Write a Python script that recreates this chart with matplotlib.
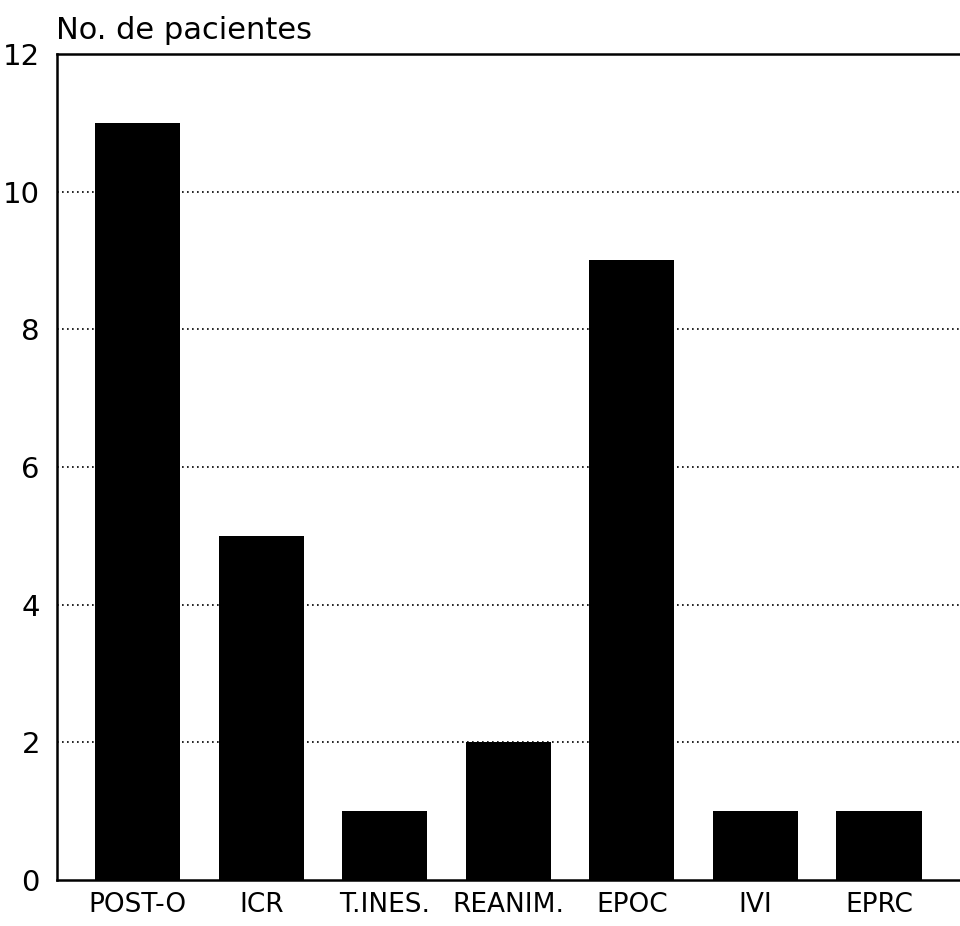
import matplotlib
matplotlib.use("Agg")
import matplotlib.pyplot as plt

categorias = ["POST-O", "ICR", "T.INES.", "REANIM.", "EPOC", "IVI", "EPRC"]
pacientes = [11, 5, 1, 2, 9, 1, 1]
yticks = [0, 2, 4, 6, 8, 10, 12]

plt.rcParams['font.family'] = ['DejaVu Sans']

fig = plt.figure(figsize=(9.6, 9.26), dpi=100)
ax = fig.add_axes([0.059, 0.0497, 0.941, 0.892])

x = range(len(categorias))
ax.bar(x, pacientes, width=0.69, color='black', zorder=3)

ax.set_xlim(-0.656, len(categorias) - 1 + 0.656)
ax.set_ylim(0, 12)
ax.set_yticks(yticks)
ax.set_yticklabels([str(v) for v in yticks], fontsize=21)
ax.set_xticks(list(x))
ax.set_xticklabels(categorias, fontsize=19)
ax.tick_params(axis='both', length=0)
ax.tick_params(axis='x', pad=9)
ax.tick_params(axis='y', pad=12)

for v in yticks[1:-1]:
    ax.axhline(v, color='black', linestyle=(0, (1, 2)), linewidth=1.2, zorder=1)

for s in ['left', 'bottom', 'top']:
    ax.spines[s].set_linewidth(1.8)
ax.spines['right'].set_visible(False)

fig.text(0.058, 0.967, "No. de pacientes", fontsize=22, ha='left', va='center')

fig.savefig("out.png", dpi=100)
